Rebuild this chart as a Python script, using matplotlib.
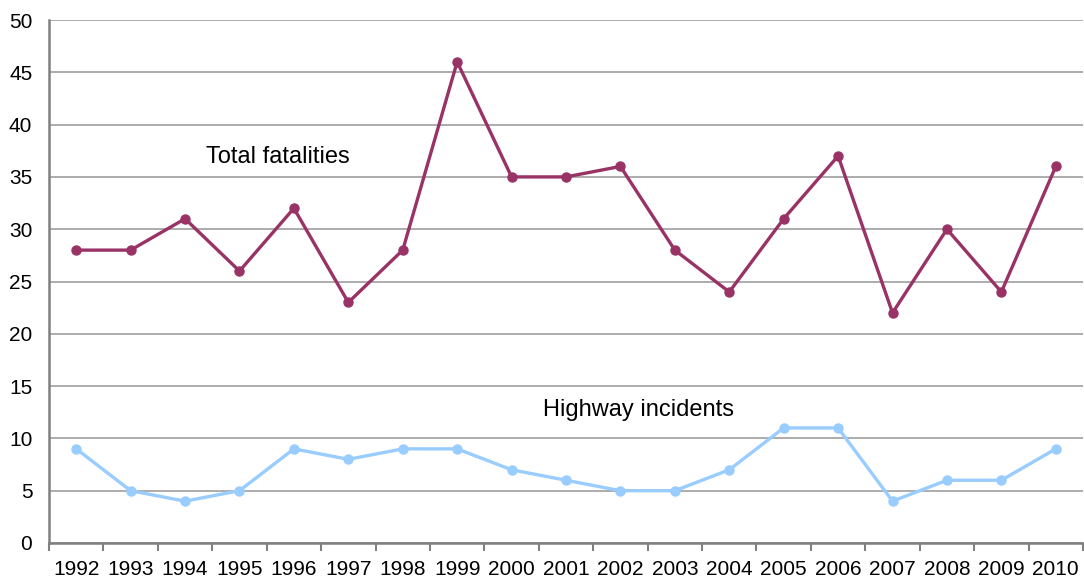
import numpy as np
import matplotlib.pyplot as plt

plt.rcParams['font.family'] = ['Liberation Sans', 'DejaVu Sans']

years = [str(y) for y in range(1992, 2011)]
total_fatalities = [28, 28, 31, 26, 32, 23, 28, 46, 35, 35, 36, 28, 24, 31, 37, 22, 30, 24, 36]
highway_incidents = [9, 5, 4, 5, 9, 8, 9, 9, 7, 6, 5, 5, 7, 11, 11, 4, 6, 6, 9]
y_ticks = list(range(0, 55, 5))

fig = plt.figure(figsize=(10.84, 5.78), dpi=100, facecolor='white')
ax = fig.add_axes([49 / 1084, 1 - 543 / 578, 1034 / 1084, 523 / 578])

x = np.arange(len(years))
ax.plot(x, total_fatalities, '-o', color='#993366', linewidth=2.4, markersize=6.5, zorder=3)
ax.plot(x, highway_incidents, '-o', color='#99CCFF', linewidth=2.4, markersize=6.5, zorder=3)

ax.text(3.71, 36.9, 'Total fatalities', fontsize=17, ha='center', va='center')
ax.text(10.34, 12.7, 'Highway incidents', fontsize=17, ha='center', va='center')

ax.set_xlim(-0.5, len(years) - 0.5)
ax.set_ylim(0, 50)
ax.set_yticks(y_ticks)
ax.set_yticklabels([str(v) for v in y_ticks], fontsize=15)
ax.set_xticks(x)
ax.set_xticklabels(years, fontsize=15)
ax.set_xticks(np.arange(-0.5, len(years), 1), minor=True)
ax.tick_params(axis='x', which='major', length=0, pad=12)
ax.tick_params(axis='x', which='minor', length=6, width=1.5, color='#808080', direction='out')
ax.tick_params(axis='y', length=0, pad=12)

ax.grid(axis='y', color='#A6A6A6', linewidth=1.3)
ax.set_axisbelow(True)
for s in ['top', 'right']:
    ax.spines[s].set_visible(False)
for s in ['left', 'bottom']:
    ax.spines[s].set_color('#808080')
    ax.spines[s].set_linewidth(1.8)

fig.savefig('out.png', dpi=100, facecolor='white')
